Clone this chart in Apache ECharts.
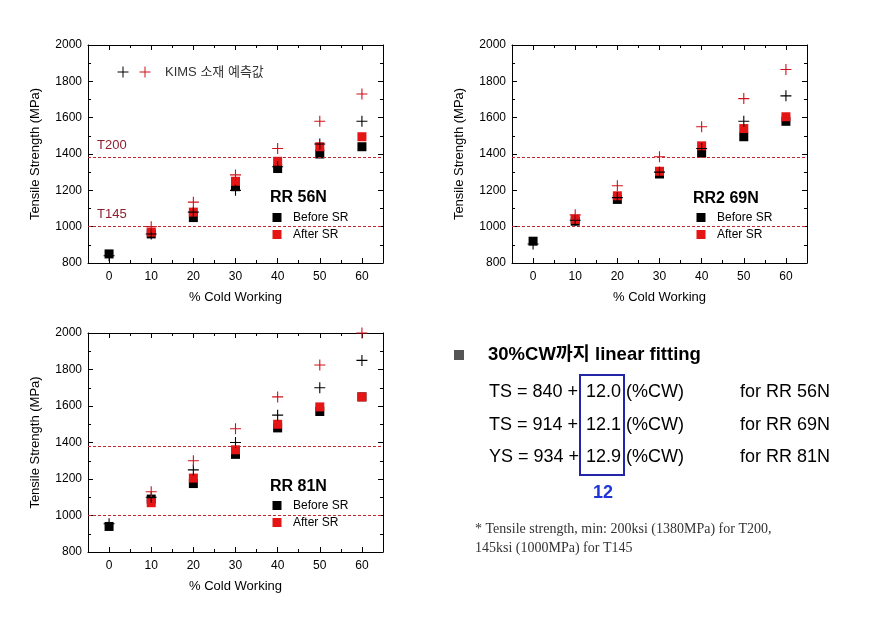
<!DOCTYPE html>
<html>
<head>
<meta charset="utf-8">
<script src="https://cdn.jsdelivr.net/npm/echarts@6/dist/echarts.min.js"></script>
<style>
html,body{margin:0;padding:0;background:#fff;}
#chart{width:874px;height:618px;}
</style>
</head>
<body>
<div id="chart"></div>
<script>
// ---------- data ----------
const coldWorking = [0, 10, 20, 30, 40, 50, 60];
const xTickValues = [0, 10, 20, 30, 40, 50, 60];

const rr56Before = [850, 960, 1050, 1220, 1320, 1400, 1440];
const rr56After = [null, 970, 1080, 1250, 1360, 1440, 1495];
const rr56KimsBlack = [840, 960, 1080, 1200, 1330, 1455, 1580];
const rr56KimsRed = [null, 1000, 1135, 1285, 1430, 1580, 1730];

const rr69Before = [920, 1030, 1150, 1290, 1405, 1495, 1580];
const rr69After = [null, 1040, 1170, 1305, 1445, 1540, 1605];
const rr69KimsBlack = [905, 1035, 1160, 1300, 1430, 1580, 1720];
const rr69KimsRed = [null, 1065, 1225, 1385, 1550, 1705, 1865];

const rr81Before = [940, 1090, 1175, 1335, 1480, 1570, 1650];
const rr81After = [null, 1070, 1205, 1360, 1500, 1595, 1650];
const rr81KimsBlack = [955, 1100, 1250, 1400, 1550, 1700, 1850];
const rr81KimsRed = [null, 1130, 1300, 1475, 1650, 1825, 2000];

const thresholdT200 = 1380;
const thresholdT145 = 1000;

const panelTitles = ['RR 56N', 'RR2 69N', 'RR 81N'];
const legendBefore = 'Before SR';
const legendAfter = 'After SR';
const kimsLabel = 'KIMS 소재 예측값';
const xAxisName = '% Cold Working';
const yAxisName = 'Tensile Strength (MPa)';

const fitTitle = '30%CW까지 linear fitting';
const fitLeft = ['TS = 840 +', 'TS = 914 +', 'YS = 934 +'];
const fitSlope = ['12.0', '12.1', '12.9'];
const fitRight = ['for RR 56N', 'for RR 69N', 'for RR 81N'];
const fitAverage = '12';
const footnote1 = '* Tensile strength, min: 200ksi (1380MPa) for T200,';
const footnote2 = '145ksi (1000MPa) for T145';

// ---------- layout ----------
const FONT = "'Liberation Sans', Arial, 'Noto Sans CJK KR', sans-serif";
const KFONT = "'Liberation Sans', Arial, 'Noto Sans CJK KR', sans-serif";
const SERIF = "'Liberation Serif', 'Times New Roman', serif";
const RED = '#e51515';
const CROSS_RED = '#d0101a';
const LINE_RED = '#c2262e';
const PLUS = 'path://M4.5,0H5.5V4.5H10V5.5H5.5V10H4.5V5.5H0V4.5H4.5Z';

const grids = [
  {left: 88, top: 45, width: 295, height: 218},
  {left: 512, top: 45, width: 295, height: 218},
  {left: 88, top: 333, width: 295, height: 219}
];

const panels = [
  {before: rr56Before, after: rr56After, kb: rr56KimsBlack, kr: rr56KimsRed},
  {before: rr69Before, after: rr69After, kb: rr69KimsBlack, kr: rr69KimsRed},
  {before: rr81Before, after: rr81After, kb: rr81KimsBlack, kr: rr81KimsRed}
];

function pts(arr) {
  const out = [];
  arr.forEach((v, i) => { if (v !== null) out.push([coldWorking[i], v]); });
  return out;
}

const xAxes = [], yAxes = [], series = [];
const axisLineStyle = {show: true, onZero: false, lineStyle: {color: '#000', width: 1}};

grids.forEach((g, i) => {
  const base = {gridIndex: i, type: 'value', min: -5, max: 65, splitLine: {show: false}};
  xAxes.push(Object.assign({}, base, {
    position: 'bottom', interval: 5,
    axisLine: axisLineStyle,
    axisTick: {inside: true, length: 3, lineStyle: {color: '#000'}},
    axisLabel: {formatter: v => (v % 10 === 0 ? String(v) : ''), fontSize: 12, color: '#000', margin: 8, fontFamily: FONT},
    name: xAxisName, nameLocation: 'middle', nameGap: 28,
    nameTextStyle: {fontSize: 13, color: '#000', fontFamily: FONT}
  }));
  xAxes.push(Object.assign({}, base, {
    position: 'bottom', interval: 10,
    axisLine: {show: false, onZero: false},
    axisTick: {inside: true, length: 5, customValues: xTickValues, lineStyle: {color: '#000'}},
    axisLabel: {show: false}
  }));
  xAxes.push(Object.assign({}, base, {
    position: 'top', interval: 5,
    axisLine: axisLineStyle,
    axisTick: {inside: true, length: 3, lineStyle: {color: '#000'}},
    axisLabel: {show: false}
  }));
  xAxes.push(Object.assign({}, base, {
    position: 'top', interval: 10,
    axisLine: {show: false, onZero: false},
    axisTick: {inside: true, length: 5, customValues: xTickValues, lineStyle: {color: '#000'}},
    axisLabel: {show: false}
  }));

  const ybase = {gridIndex: i, type: 'value', min: 800, max: 2000, interval: 200, splitLine: {show: false},
    axisLine: axisLineStyle,
    axisTick: {inside: true, length: 5, lineStyle: {color: '#000'}},
    minorTick: {show: true, splitNumber: 2, length: 3, lineStyle: {color: '#000'}}};
  yAxes.push(Object.assign({}, ybase, {
    position: 'left',
    axisLabel: {formatter: v => String(v), fontSize: 12, color: '#000', margin: 6, fontFamily: FONT},
    name: yAxisName, nameLocation: 'middle', nameGap: 46,
    nameTextStyle: {fontSize: 13, color: '#000', fontFamily: FONT}
  }));
  yAxes.push(Object.assign({}, ybase, {position: 'right', axisLabel: {show: false}}));

  const p = panels[i];
  const xi = 4 * i, yi = 2 * i;
  series.push({
    type: 'scatter', xAxisIndex: xi, yAxisIndex: yi, data: pts(p.before),
    symbol: 'rect', symbolSize: 9, itemStyle: {color: '#000', opacity: 1},
    markLine: {
      silent: true, symbol: 'none', label: {show: false},
      lineStyle: {color: LINE_RED, type: [3, 2], width: 1},
      data: [{yAxis: thresholdT200}, {yAxis: thresholdT145}]
    }
  });
  series.push({
    type: 'scatter', xAxisIndex: xi, yAxisIndex: yi, data: pts(p.after),
    symbol: 'rect', symbolSize: 9, itemStyle: {color: RED, opacity: 1}
  });
  series.push({
    type: 'scatter', xAxisIndex: xi, yAxisIndex: yi, data: pts(p.kb),
    symbol: PLUS, symbolSize: 11, itemStyle: {color: '#000', opacity: 1}
  });
  series.push({
    type: 'scatter', xAxisIndex: xi, yAxisIndex: yi, data: pts(p.kr),
    symbol: PLUS, symbolSize: 11, itemStyle: {color: CROSS_RED, opacity: 1}
  });
});

// ---------- annotations ----------
const graphics = [];
function txt(x, y, text, style) {
  graphics.push({type: 'text', x: x, y: y, style: Object.assign({text: text, fill: '#000', font: '12px ' + FONT, textVerticalAlign: 'middle'}, style)});
}
function plus(cx, cy, color) {
  graphics.push({type: 'line', shape: {x1: cx - 5.5, y1: cy, x2: cx + 5.5, y2: cy}, style: {stroke: color, lineWidth: 1}});
  graphics.push({type: 'line', shape: {x1: cx, y1: cy - 5.5, x2: cx, y2: cy + 5.5}, style: {stroke: color, lineWidth: 1}});
}
function sq(cx, cy, color) {
  graphics.push({type: 'rect', shape: {x: cx - 4.5, y: cy - 4.5, width: 9, height: 9}, style: {fill: color}});
}

// KIMS legend (panel 1)
plus(123, 72, '#000');
plus(145, 72, CROSS_RED);
txt(165, 72, kimsLabel, {font: '13px ' + KFONT, fill: '#333'});
// T200 / T145 labels (panel 1)
txt(97, 145, 'T200', {font: '13px ' + FONT, fill: '#8e1f2f'});
txt(97, 214, 'T145', {font: '13px ' + FONT, fill: '#8e1f2f'});

// panel titles and legends
const legendPos = [
  {tx: 270, ty: 198, sx: 277, by: 217.5, ay: 234.5, lx: 293},
  {tx: 693, ty: 199, sx: 701, by: 217.5, ay: 234.5, lx: 717},
  {tx: 270, ty: 487, sx: 277, by: 505.5, ay: 522.5, lx: 293}
];
legendPos.forEach((l, i) => {
  txt(l.tx, l.ty, panelTitles[i], {font: 'bold 16px ' + FONT});
  sq(l.sx, l.by, '#000');
  txt(l.lx, l.by, legendBefore, {font: '12px ' + FONT});
  sq(l.sx, l.ay, RED);
  txt(l.lx, l.ay, legendAfter, {font: '12px ' + FONT});
});

// right-bottom text panel
graphics.push({type: 'rect', shape: {x: 454, y: 350, width: 10, height: 10}, style: {fill: '#555'}});
txt(488, 355, fitTitle, {font: 'bold 18.5px ' + KFONT});
const rowsY = [392, 425, 457];
rowsY.forEach((y, i) => {
  txt(489, y, fitLeft[i], {font: '18px ' + FONT});
  txt(586, y, fitSlope[i], {font: '18px ' + FONT});
  txt(626, y, '(%CW)', {font: '18px ' + FONT});
  txt(740, y, fitRight[i], {font: '18px ' + FONT});
});
graphics.push({type: 'rect', shape: {x: 580, y: 375, width: 44, height: 100}, style: {fill: 'none', stroke: '#2424a8', lineWidth: 2}});
txt(603, 493, fitAverage, {font: 'bold 18px ' + FONT, fill: '#1f35d8', textAlign: 'center'});
txt(475, 529, footnote1, {font: '14px ' + SERIF, fill: '#333'});
txt(475, 548, footnote2, {font: '14px ' + SERIF, fill: '#333'});

const chart = echarts.init(document.getElementById('chart'), null, {renderer: 'canvas'});
chart.setOption({
  animation: false,
  backgroundColor: '#fff',
  grid: grids,
  xAxis: xAxes,
  yAxis: yAxes,
  series: series,
  graphic: graphics
});
</script>
</body>
</html>
